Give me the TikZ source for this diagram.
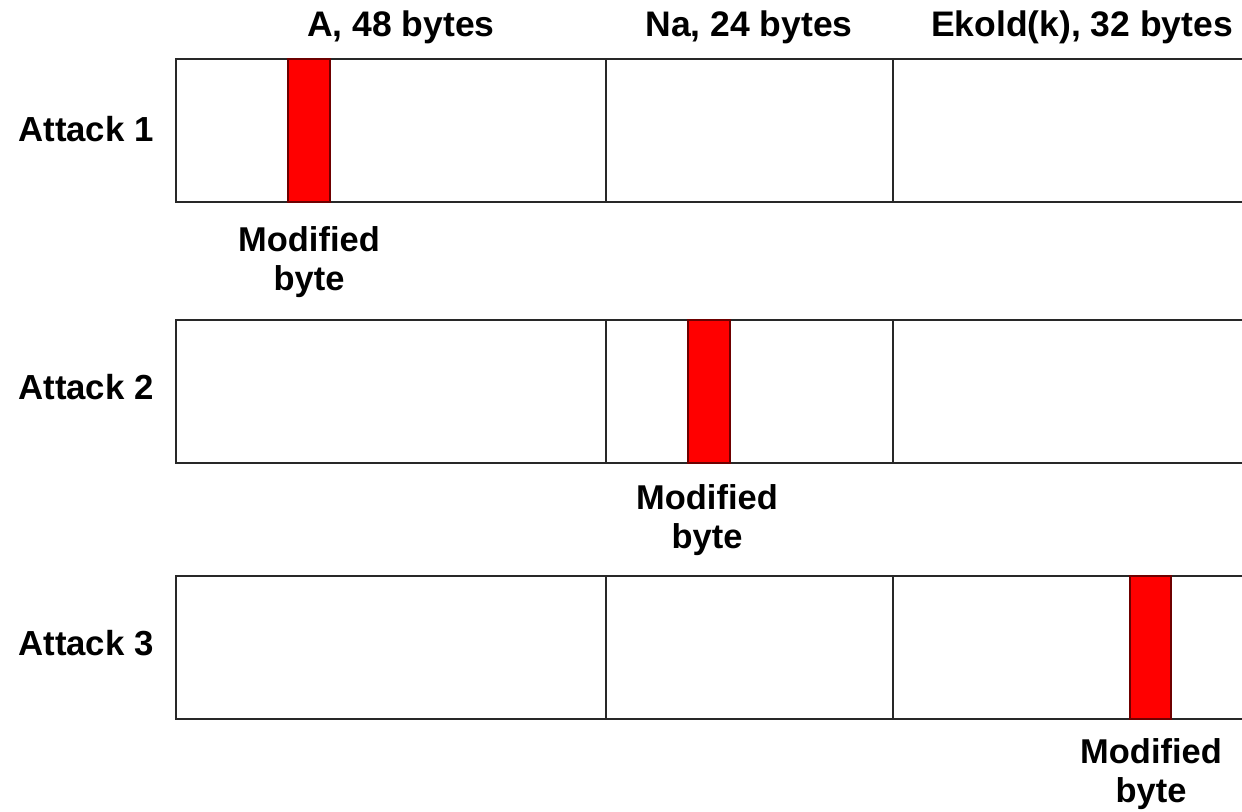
\documentclass[tikz,border=0pt]{standalone}
\usepackage{fontspec}
\setmainfont{Liberation Sans}
\usetikzlibrary{positioning}
\definecolor{byteRed}{RGB}{255,0,0}
\definecolor{byteEdge}{RGB}{110,0,0}
\definecolor{fieldLine}{RGB}{40,40,40}

\begin{document}
\begin{tikzpicture}[x=0.02cm,y=-0.02cm,
    field/.style={draw=fieldLine,line width=0.6pt},
    modbyte/.style={draw=byteEdge,fill=byteRed,line width=0.6pt},
    head/.style={font=\fontsize{20.2}{24}\selectfont\bfseries,inner sep=0pt},
    lbl/.style={font=\fontsize{19.6}{22.5}\selectfont\bfseries,inner sep=0pt,align=center},
    rowlbl/.style={font=\fontsize{19.8}{24}\selectfont\bfseries,inner sep=0pt}]
    \useasboundingbox (0,0) rectangle (1242,812);

    % Field headings
    \node[head] (hA) at (401,27) {A, 48 bytes};
    \node[head] (hNa) at (749,27) {Na, 24 bytes};
    \node[head] (hEk) at (1082,27) {Ekold(k), 32 bytes};

    % Attack 1
    \node[rowlbl] (att1) at (86,129) {Attack 1};
    \draw[field] (176,59) rectangle (1244,202);
    \draw[field] (606,59) -- (606,202);
    \draw[field] (893,59) -- (893,202);
    \draw[modbyte] (288,59) rectangle (330,202);
    \node[lbl] (mod1) at (309,262) {Modified\\byte};

    % Attack 2
    \node[rowlbl] (att2) at (86,387) {Attack 2};
    \draw[field] (176,320) rectangle (1244,463);
    \draw[field] (606,320) -- (606,463);
    \draw[field] (893,320) -- (893,463);
    \draw[modbyte] (688,320) rectangle (730,463);
    \node[lbl] (mod2) at (707,520) {Modified\\byte};

    % Attack 3
    \node[rowlbl] (att3) at (86,643) {Attack 3};
    \draw[field] (176,576) rectangle (1244,719);
    \draw[field] (606,576) -- (606,719);
    \draw[field] (893,576) -- (893,719);
    \draw[modbyte] (1130,576) rectangle (1171,719);
    \node[lbl] (mod3) at (1151,774) {Modified\\byte};
\end{tikzpicture}
\end{document}
